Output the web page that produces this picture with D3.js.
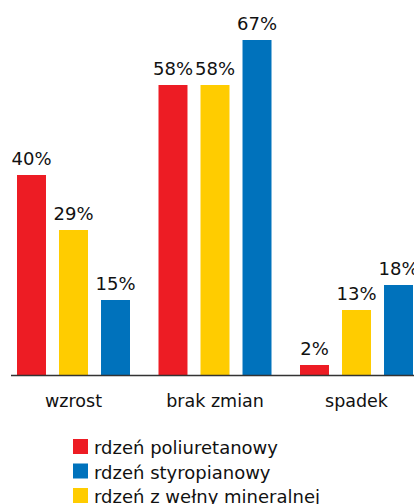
<!DOCTYPE html>
<html lang="pl">
<head>
  <meta charset="UTF-8">
  <title>rdzeń - zmiany</title>
  <script src="https://d3js.org/d3.v7.min.js"></script>
  <style>
    * { margin: 0; padding: 0; }
    body { background: #fff; }
    svg { display: block; font-family: "DejaVu Sans", sans-serif; }
  </style>
</head>
<body>
  <div class="chart"></div>
  <script>
    var width = 414;
    var height = 504;

    // data
    var categories = ['wzrost', 'brak zmian', 'spadek'];
    var series = ['rdzeń poliuretanowy', 'rdzeń z wełny mineralnej', 'rdzeń styropianowy'];
    var poliuretan = [40, 58, 2];
    var welna = [29, 58, 13];
    var styropian = [15, 67, 18];
    var legendOrder = ['rdzeń poliuretanowy', 'rdzeń styropianowy', 'rdzeń z wełny mineralnej'];

    var values = [poliuretan, welna, styropian];
    var color = d3.scaleOrdinal()
      .domain(series)
      .range(['#ED1C24', '#FFCC00', '#0072BC']);

    var svg = d3.select('.chart')
      .append('svg')
      .attr('width', width)
      .attr('height', height);

    var baseY = 375;

    // scales
    var x0 = d3.scaleBand()
      .domain(categories)
      .range([17, 413])
      .paddingInner(0.2014)
      .paddingOuter(0);

    var x1 = d3.scaleBand()
      .domain(series)
      .range([0, x0.bandwidth()])
      .paddingInner(0.31)
      .paddingOuter(0);

    var y = d3.scaleLinear()
      .domain([0, 75])
      .range([baseY, 0]);

    // bars
    var groups = svg.selectAll('.group')
      .data(categories)
      .enter()
      .append('g')
      .attr('class', 'group')
      .attr('transform', function (d) { return 'translate(' + x0(d) + ',0)'; });

    var cells = groups.selectAll('.bar')
      .data(function (d, ci) {
        return series.map(function (s, si) {
          return { s: s, v: values[si][ci] };
        });
      })
      .enter();

    cells.append('rect')
      .attr('class', 'bar')
      .attr('x', function (d) { return x1(d.s); })
      .attr('y', function (d) { return y(d.v); })
      .attr('width', x1.bandwidth())
      .attr('height', function (d) { return baseY - y(d.v); })
      .attr('fill', function (d) { return color(d.s); });

    cells.append('text')
      .attr('x', function (d) { return x1(d.s) + x1.bandwidth() / 2; })
      .attr('y', function (d) { return y(d.v) - 10; })
      .attr('text-anchor', 'middle')
      .style('font-size', '18px')
      .attr('fill', '#111')
      .text(function (d) { return d.v + '%'; });

    // axis
    var xAxis = d3.axisBottom(x0)
      .tickSize(0)
      .tickPadding(20);

    var gx = svg.append('g')
      .attr('transform', 'translate(0,' + baseY + ')')
      .call(xAxis);
    gx.select('.domain').remove();
    gx.selectAll('text')
      .style('font-size', '17.5px')
      .style('font-family', '"DejaVu Sans", sans-serif')
      .attr('fill', '#111');

    svg.append('line')
      .attr('x1', 11)
      .attr('x2', 414)
      .attr('y1', baseY + 0.5)
      .attr('y2', baseY + 0.5)
      .attr('stroke', '#333')
      .attr('stroke-width', 1.5);

    // legend
    var legend = svg.selectAll('.legend')
      .data(legendOrder)
      .enter()
      .append('g')
      .attr('class', 'legend')
      .attr('transform', function (d, i) { return 'translate(73,' + (439 + i * 24.5) + ')'; });

    legend.append('rect')
      .attr('width', 15)
      .attr('height', 15)
      .attr('fill', function (d) { return color(d); });

    legend.append('text')
      .attr('x', 21)
      .attr('y', 15)
      .style('font-size', '18px')
      .attr('fill', '#111')
      .text(function (d) { return d; });
  </script>
</body>
</html>
